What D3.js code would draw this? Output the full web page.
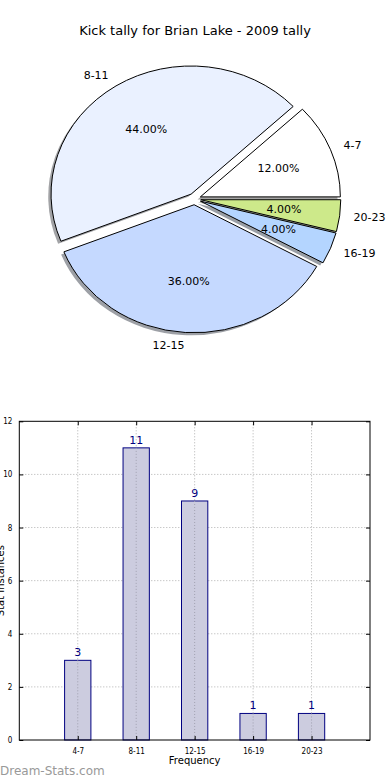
<!DOCTYPE html>
<html>
<head>
<meta charset="utf-8">
<script src="https://cdn.jsdelivr.net/npm/d3@7"></script>
<style>
  body { margin: 0; background: #fff; }
  svg { display: block; font-family: "DejaVu Sans", sans-serif; }
</style>
</head>
<body>
<div id="chart"></div>
<script>
// datos
const categories = ["4-7", "8-11", "12-15", "16-19", "20-23"];
const counts = [3, 11, 9, 1, 1];
const pieColors = ["#ffffff", "#eaf1ff", "#c5d9ff", "#b4d5ff", "#cde98a"];
const yTicks = [0, 2, 4, 6, 8, 10, 12];

const W = 390, H = 780;
const svg = d3.select("#chart").append("svg")
    .attr("width", W)
    .attr("height", H);

// titulo
svg.append("text")
    .attr("x", 195).attr("y", 35)
    .attr("text-anchor", "middle")
    .attr("font-size", 13)
    .text("Kick tally for Brian Lake - 2009 tally");

// ---------- PIE (elipse, estilo matplotlib) ----------
const cx = 194.5, cy = 199, rx = 140, ry = 128;
const explode = 0.045;
const total = d3.sum(counts);

const pie = d3.pie().sort(null)
    .startAngle(Math.PI / 2)
    .endAngle(Math.PI / 2 - 2 * Math.PI);
const arcs = pie(counts);
const arc = d3.arc().innerRadius(0).outerRadius(1);

const pieG = svg.append("g").attr("transform", `translate(${cx},${cy})`);

// desplazamiento de cada porcion
function off(d, k) {
  const m = (d.startAngle + d.endAngle) / 2;
  return [Math.sin(m) * k * rx, -Math.cos(m) * k * ry];
}

// sombras primero
pieG.selectAll(".shadow").data(arcs).join("path")
    .attr("class", "shadow")
    .attr("transform", d => {
      const [ox, oy] = off(d, explode);
      return `translate(${ox - 0.02 * rx},${oy + 0.02 * ry}) scale(${rx},${ry})`;
    })
    .attr("d", arc)
    .attr("fill", (d, i) => {
      const c = d3.rgb(pieColors[i]);
      return d3.rgb(c.r * 0.3, c.g * 0.3, c.b * 0.3);
    })
    .attr("fill-opacity", 0.5);

pieG.selectAll(".wedge").data(arcs).join("path")
    .attr("class", "wedge")
    .attr("transform", d => {
      const [ox, oy] = off(d, explode);
      return `translate(${ox},${oy}) scale(${rx},${ry})`;
    })
    .attr("d", arc)
    .attr("fill", (d, i) => pieColors[i])
    .attr("stroke", "#000")
    .attr("stroke-width", 1)
    .attr("vector-effect", "non-scaling-stroke");

// etiquetas
pieG.selectAll(".lbl").data(arcs).join("text")
    .attr("class", "lbl")
    .each(function (d, i) {
      const m = (d.startAngle + d.endAngle) / 2;
      const [ox, oy] = off(d, explode);
      const x = ox + 1.1 * rx * Math.sin(m);
      const y = oy - 1.1 * ry * Math.cos(m);
      d3.select(this)
        .attr("x", x).attr("y", y)
        .attr("dy", "0.35em")
        .attr("text-anchor", x > 0 ? "start" : "end")
        .attr("font-size", 11)
        .text(categories[i]);
    });

pieG.selectAll(".pct").data(arcs).join("text")
    .attr("class", "pct")
    .each(function (d) {
      const m = (d.startAngle + d.endAngle) / 2;
      const [ox, oy] = off(d, explode);
      d3.select(this)
        .attr("x", ox + 0.6 * rx * Math.sin(m))
        .attr("y", oy - 0.6 * ry * Math.cos(m))
        .attr("dy", "0.35em")
        .attr("text-anchor", "middle")
        .attr("font-size", 11)
        .text((d.value / total * 100).toFixed(2) + "%");
    });

// ---------- BARRAS ----------
const pLeft = 19.3, pRight = 370, pTop = 421.3, pBottom = 740;
const x = d3.scaleLinear().domain([-1, 5]).range([pLeft, pRight]);
const y = d3.scaleLinear().domain([0, 12]).range([pBottom, pTop]);
const barW = x(0.45) - x(0);

const g = svg.append("g");

// rejilla punteada
g.selectAll(".gy").data(yTicks.slice(1, -1)).join("line")
    .attr("x1", pLeft).attr("x2", pRight)
    .attr("y1", d => y(d)).attr("y2", d => y(d))
    .attr("stroke", "#b0b0b0").attr("stroke-dasharray", "1,2");
g.selectAll(".gx").data(categories).join("line")
    .attr("x1", (d, i) => x(i)).attr("x2", (d, i) => x(i))
    .attr("y1", pTop).attr("y2", pBottom)
    .attr("stroke", "#b0b0b0").attr("stroke-dasharray", "1,2");

// barras
g.selectAll(".bar").data(counts).join("rect")
    .attr("x", (d, i) => x(i) - barW / 2)
    .attr("y", d => y(d))
    .attr("width", barW)
    .attr("height", d => pBottom - y(d))
    .attr("fill", "#ccccdf")
    .attr("stroke", "#000080")
    .attr("stroke-width", 1);

// rejilla sobre barras (como matplotlib)
g.selectAll(".gx2").data(categories).join("line")
    .attr("x1", (d, i) => x(i)).attr("x2", (d, i) => x(i))
    .attr("y1", (d, i) => y(counts[i])).attr("y2", pBottom)
    .attr("stroke", "#a0a0b0").attr("stroke-dasharray", "1,2");

// valores
g.selectAll(".val").data(counts).join("text")
    .attr("x", (d, i) => x(i))
    .attr("y", d => y(d) - 4)
    .attr("text-anchor", "middle")
    .attr("font-size", 11)
    .attr("fill", "#000080")
    .text(d => d);

// ejes
const yAxis = d3.axisLeft(y).tickValues(yTicks).tickSize(-4).tickPadding(7);
g.append("g").attr("transform", `translate(${pLeft},0)`).call(yAxis)
    .call(a => a.select(".domain").remove())
    .selectAll("text").attr("font-size", 8).attr("font-family", "DejaVu Sans Condensed, DejaVu Sans");
const yAxisR = d3.axisRight(y).tickValues(yTicks).tickSize(-4).tickFormat("");
g.append("g").attr("transform", `translate(${pRight},0)`).call(yAxisR)
    .call(a => a.select(".domain").remove());

const xAxis = d3.axisBottom(x).tickValues(d3.range(categories.length))
    .tickFormat(i => categories[i]).tickSize(-4).tickPadding(8);
g.append("g").attr("transform", `translate(0,${pBottom})`).call(xAxis)
    .call(a => a.select(".domain").remove())
    .selectAll("text").attr("font-size", 8).attr("font-family", "DejaVu Sans Condensed, DejaVu Sans");
const xAxisT = d3.axisTop(x).tickValues(d3.range(categories.length)).tickSize(-4).tickFormat("");
g.append("g").attr("transform", `translate(0,${pTop})`).call(xAxisT)
    .call(a => a.select(".domain").remove());

g.append("rect")
    .attr("x", pLeft).attr("y", pTop)
    .attr("width", pRight - pLeft).attr("height", pBottom - pTop)
    .attr("fill", "none").attr("stroke", "#000").attr("stroke-width", 1);

// etiquetas de ejes
svg.append("text")
    .attr("x", (pLeft + pRight) / 2).attr("y", 764)
    .attr("text-anchor", "middle")
    .attr("font-size", 10)
    .text("Frequency");
// en la referencia esta etiqueta queda cortada por el borde izquierdo
svg.append("text")
    .attr("transform", `translate(4,${(pTop + pBottom) / 2}) rotate(-90)`)
    .attr("text-anchor", "middle")
    .attr("font-size", 10)
    .text("Stat Instances");

// marca de agua
svg.append("text")
    .attr("x", 0).attr("y", 775)
    .attr("font-size", 12)
    .attr("fill", "#999999")
    .text("Dream-Stats.com");
</script>
</body>
</html>
